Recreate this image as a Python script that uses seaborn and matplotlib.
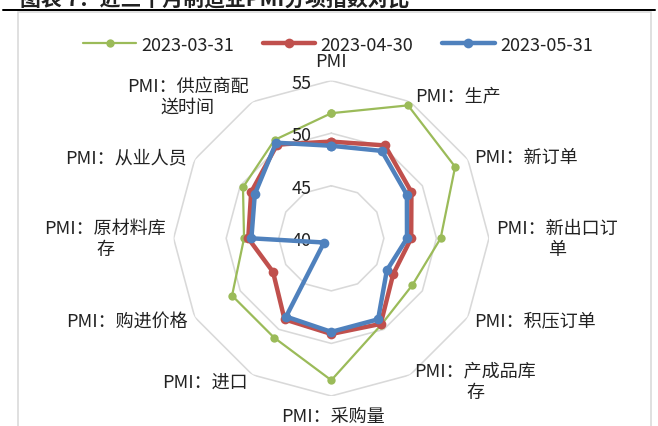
import numpy as np
import pandas as pd
import matplotlib
matplotlib.use('Agg')
import matplotlib.pyplot as plt
from matplotlib.lines import Line2D
from matplotlib.patches import Rectangle
import seaborn as sns

# Data
categories = ['PMI', 'PMI：生产', 'PMI：新订单', 'PMI：新出口订\n单', 'PMI：积压订单',
              'PMI：产成品库\n存', 'PMI：采购量', 'PMI：进口', 'PMI：购进价格',
              'PMI：原材料库\n存', 'PMI：从业人员', 'PMI：供应商配\n送时间']
dates = ['2023-03-31', '2023-04-30', '2023-05-31']
pmi_mar = [51.9, 54.6, 53.6, 50.4, 48.9, 49.5, 53.5, 50.9, 50.9, 48.3, 49.7, 50.8]
pmi_apr = [49.2, 50.2, 48.8, 47.6, 46.8, 49.4, 49.1, 48.9, 46.4, 47.9, 48.8, 50.3]
pmi_may = [48.8, 49.6, 48.3, 47.2, 46.1, 48.9, 48.9, 48.6, 40.8, 47.6, 48.4, 50.5]
ring_values = [45, 50, 55]
ring_labels = ['40', '45', '50', '55']
r_min, r_max = 40, 55

colors = ['#9BBB59', '#C0504D', '#4F81BD']
widths = [1.6, 3.2, 3.2]
msizes = [6.0, 7.0, 7.0]

sns.set_style('white')
plt.rcParams['font.family'] = ['Noto Sans CJK SC', 'DejaVu Sans']
plt.rcParams['text.color'] = '#222222'

W, H = 658, 427
fig = plt.figure(figsize=(W / 100, H / 100), dpi=100)

def px(x, y):
    # pixel position (from top-left) -> figure fraction
    return x / W, 1 - y / H

P = 0.72  # points per pixel

# page decoration: heading cut off at the top, black rule, light chart frame
tx, ty = px(20, 6)
fig.text(tx, ty, '图表 7：近三个月制造业PMI分项指数对比', fontsize=15,
         fontweight='bold', ha='left', va='baseline')
x0, y0 = px(3, 10.5)
x1, _ = px(655, 10.5)
fig.add_artist(Line2D([x0, x1], [y0, y0], color='black', lw=2 * P))
fx0, fy0 = px(17.5, 440)
fx1, fy1 = px(650.7, 12.5)
fig.add_artist(Rectangle((fx0, fy0), fx1 - fx0, fy1 - fy0, fill=False,
                         edgecolor='#D9D9D9', lw=1.6 * P))

# radar axes
cx, cy, rad = 331.3, 239.3, 157.7
ax = fig.add_axes([(cx - rad) / W, (H - cy - rad) / H, 2 * rad / W, 2 * rad / H],
                  projection='polar')
ax.set_theta_offset(np.pi / 2)
ax.set_theta_direction(-1)
ax.patch.set_alpha(0)

n = len(categories)
theta = np.linspace(0, 2 * np.pi, n, endpoint=False)
theta_c = np.append(theta, 2 * np.pi)

for rv in ring_values:
    ax.plot(theta_c, [rv] * (n + 1), color='#D9D9D9', lw=1.6 * P, zorder=1)

series = [pmi_mar, pmi_apr, pmi_may]
for i, (d, vals) in enumerate(zip(dates, series)):
    vals_c = np.append(vals, vals[0])
    df = pd.DataFrame({'theta': theta_c, 'value': vals_c})
    sns.lineplot(data=df, x='theta', y='value', ax=ax, sort=False, color=colors[i],
                 lw=widths[i], marker='o', markersize=msizes[i], markeredgewidth=0,
                 label=d, zorder=3 + i)

ax.set_ylim(r_min, r_max)
ax.grid(False)
ax.spines['polar'].set_visible(False)
ax.set_xticks([])
ax.set_yticks([])
ax.set_xlabel('')
ax.set_ylabel('')

# ring value labels, left of the top axis
for v, lab in zip([40] + ring_values, ring_labels):
    ax.annotate(lab, xy=(0, v), xytext=(-19.5 * P, -2 * P), textcoords='offset points',
                ha='right', va='center', fontsize=13, annotation_clip=False)

# category labels placed just outside the outer ring vertices (offset in px, ha)
label_pos = [((0, -20), 'center'), ((5, -6), 'left'), ((6, -2), 'left'),
             ((7, 0), 'left'), ((6, 3.5), 'left'), ((4, 6), 'left'),
             ((2, 20), 'center'), ((-4.5, 7), 'right'), ((-6.5, 3.5), 'right'),
             ((-7.5, 0), 'right'), ((-7.5, -2), 'right'), ((-4, -5.5), 'right')]
for t, lab, ((dx, dy), ha) in zip(theta, categories, label_pos):
    ax.annotate(lab, xy=(t, r_max), xytext=(dx * P, -dy * P), textcoords='offset points',
                ha=ha, va='center', multialignment='center', fontsize=13,
                linespacing=1.25, annotation_clip=False)

handles, labels = ax.get_legend_handles_labels()
ax.get_legend().remove()
lx, ly = px(338, 45.7)
fig.legend(handles, labels, loc='center', bbox_to_anchor=(lx, ly), ncol=3,
           frameon=False, fontsize=13, handlelength=2.9, handletextpad=0.3,
           columnspacing=1.6)

fig.savefig('out.png', dpi=100)
